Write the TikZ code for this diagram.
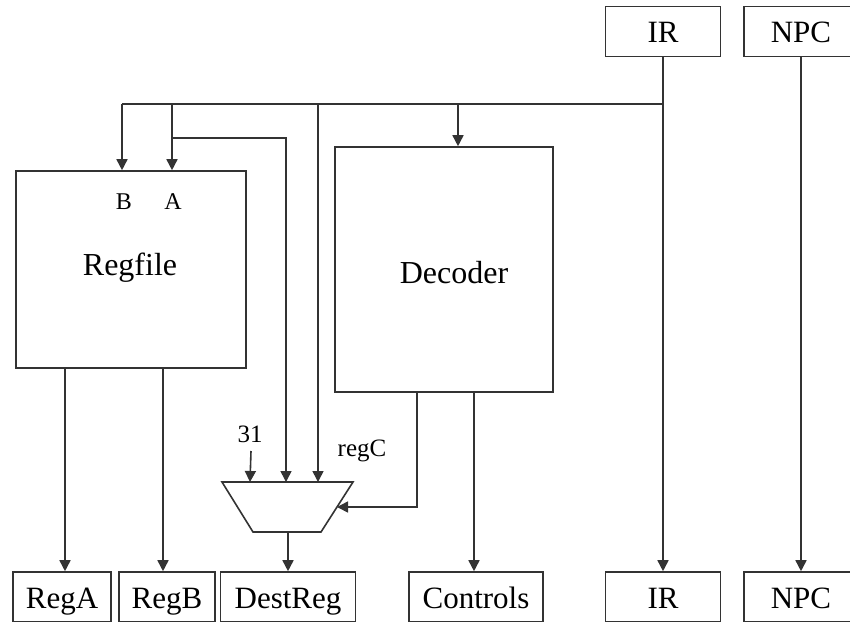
\documentclass[tikz,border=0pt]{standalone}
\usepackage{fontspec}
\setmainfont{Liberation Serif}
\usetikzlibrary{arrows.meta}

\tikzset{
  wire/.style={line width=1.6pt, draw=black!80},
  arr/.style={wire, -{Triangle[width=11pt,length=11pt]}},
  blk/.style={rectangle, draw=black!80, line width=1.6pt, inner sep=0pt, fill=white},
  regbox/.style={blk, minimum height=50pt, text height=26pt, text depth=4pt,
                 font=\fontsize{31}{31}\selectfont},
  bigtext/.style={anchor=base, inner sep=0pt, font=\fontsize{32}{32}\selectfont},
  porttext/.style={anchor=base, inner sep=0pt, font=\fontsize{24}{24}\selectfont},
  smalltext/.style={anchor=base, inner sep=0pt, font=\fontsize{25}{25}\selectfont},
}

\begin{document}
\begin{tikzpicture}[x=1pt, y=-1pt]
\useasboundingbox (0,0) rectangle (850,621);
\clip (0,0) rectangle (850,621);

% pipeline registers at the top
\node[regbox, minimum width=115pt] (irtop)  at (663,31.5) {IR};
\node[regbox, minimum width=114pt] (npctop) at (801,31.5) {NPC};

% register file and decoder
\node[blk, minimum width=230pt, minimum height=197pt] (regfile) at (131,269.5) {};
\node[bigtext] (regfiletxt) at (130,275) {Regfile};
\node[porttext] (portB) at (124,209) {B};
\node[porttext] (portA) at (173,209) {A};

\node[blk, minimum width=218pt, minimum height=245pt] (decoder) at (444,269.5) {};
\node[bigtext] (decodertxt) at (454,283) {Decoder};

% pipeline registers at the bottom
\node[regbox, minimum width=98pt]  (rega)     at (62,597) {RegA};
\node[regbox, minimum width=96pt]  (regb)     at (167,597) {RegB};
\node[regbox, minimum width=135pt] (destreg)  at (288,597) {DestReg};
\node[regbox, minimum width=134pt] (controls) at (476,597) {Controls};
\node[regbox, minimum width=115pt] (irbot)    at (663,597) {IR};
\node[regbox, minimum width=114pt] (npcbot)   at (801,597) {NPC};

% destination register multiplexer
\draw[wire] (222,482) -- (353,482) -- (321,532) -- (253,532) -- cycle;
\coordinate (mux31)  at (250,482);
\coordinate (muxA)   at (286,482);
\coordinate (muxC)   at (318,482);
\coordinate (muxsel) at (337,507);
\coordinate (muxout) at (288,532);
\node[smalltext] (const31) at (250,442) {31};
\node[smalltext] (regclbl) at (362,456) {regC};
\coordinate (c31) at (251,451);

% instruction bus taps
\coordinate (tap)  at (663,104);
\coordinate (bB)   at (122,104);
\coordinate (bA)   at (172,104);
\coordinate (aTap) at (172,138);
\coordinate (bC)   at (318,104);
\coordinate (bD)   at (458,104);
\coordinate (decsel) at (417,392);

% pass-through registers
\draw[arr] (irtop) -- (irbot);
\draw[arr] (npctop) -- (npcbot);

% instruction fields
\draw[wire] (tap) -- (bB);
\draw[arr] (bB) -- (bB |- regfile.north);
\draw[arr] (bA) -- (bA |- regfile.north);
\draw[arr] (aTap) -| (muxA);
\draw[arr] (bC) -- (muxC);
\draw[arr] (bD) -- (bD |- decoder.north);

% register file outputs
\draw[arr] ([xshift=3pt]rega.north |- regfile.south) -- ([xshift=3pt]rega.north);
\draw[arr] ([xshift=-4pt]regb.north |- regfile.south) -- ([xshift=-4pt]regb.north);

% multiplexer inputs and output
\draw[arr] (c31) -- (mux31);
\draw[arr] (decsel) |- (muxsel);
\draw[arr] (muxout) -- (destreg.north);

% decoder controls
\draw[arr] ([xshift=-2pt]controls.north |- decoder.south) -- ([xshift=-2pt]controls.north);
\end{tikzpicture}
\end{document}
